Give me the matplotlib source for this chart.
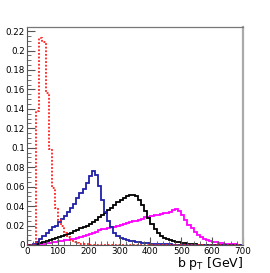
import numpy as np
import matplotlib
matplotlib.use("Agg")
import matplotlib.pyplot as plt
from matplotlib.ticker import MultipleLocator

# bin edges 0..700 GeV, 10 GeV bins
edges = np.arange(0, 710, 10)

# red (dotted)
red_vals = [0, 0, 0, 0.138, 0.213, 0.209, 0.156, 0.099, 0.059, 0.038,
            0.026, 0.020, 0.012, 0.008, 0.005, 0.003, 0.002, 0.001, 0.001, 0.001,
            0.0005, 0.0005, 0.0005, 0.0003, 0.0003, 0.0002, 0.0002, 0.0001, 0.0001, 0.0001]
# blue
blue_vals = [0, 0, 0.001, 0.003, 0.006, 0.009, 0.012, 0.015, 0.018, 0.020,
             0.024, 0.027, 0.030, 0.034, 0.038, 0.042, 0.048, 0.053, 0.058, 0.064,
             0.071, 0.076, 0.072, 0.061, 0.046, 0.034, 0.025, 0.018, 0.012, 0.009,
             0.007, 0.006, 0.005, 0.004, 0.004, 0.003, 0.003, 0.002, 0.002, 0.002,
             0.0015, 0.0015, 0.001, 0.001, 0.001, 0.0008, 0.0006, 0.0005, 0.0004, 0.0003]
# black
black_vals = [0, 0, 0.0005, 0.001, 0.002, 0.003, 0.004, 0.005, 0.006, 0.007,
              0.008, 0.009, 0.010, 0.011, 0.012, 0.014, 0.015, 0.017, 0.019, 0.020,
              0.022, 0.024, 0.026, 0.029, 0.031, 0.033, 0.036, 0.038, 0.041, 0.044,
              0.046, 0.048, 0.050, 0.051, 0.051, 0.050, 0.046, 0.041, 0.035, 0.028,
              0.022, 0.016, 0.012, 0.009, 0.007, 0.006, 0.005, 0.004, 0.003, 0.003,
              0.002, 0.002, 0.0015, 0.001, 0.001, 0.0005, 0.0005, 0.0003, 0.0002, 0.0002]
# magenta
mag_vals = [0, 0, 0, 0.0003, 0.001, 0.0015, 0.002, 0.002, 0.003, 0.003,
            0.004, 0.004, 0.005, 0.005, 0.006, 0.006, 0.007, 0.008, 0.009, 0.010,
            0.011, 0.012, 0.013, 0.015, 0.016, 0.016, 0.017, 0.018, 0.019, 0.020,
            0.021, 0.022, 0.023, 0.024, 0.025, 0.025, 0.026, 0.027, 0.029, 0.029,
            0.030, 0.031, 0.031, 0.032, 0.033, 0.033, 0.034, 0.036, 0.037, 0.035,
            0.031, 0.026, 0.021, 0.017, 0.013, 0.010, 0.008, 0.006, 0.005, 0.004,
            0.003, 0.003, 0.002, 0.002, 0.0015, 0.001, 0.001, 0.0008, 0.0005, 0.0005]


def full(v):
    v = list(v) + [0] * (len(edges) - 1 - len(v))
    return np.array(v)


fig = plt.figure(figsize=(2.70, 2.73), dpi=100)
ax = fig.add_axes([27 / 270, 28 / 273, 216 / 270, 218 / 273])

ax.stairs(full(mag_vals), edges, baseline=0, color="#ff00ff", lw=1.3)
ax.stairs(full(black_vals), edges, baseline=0, color="black", lw=1.3)
ax.stairs(full(blue_vals), edges, baseline=0, color="#2020a8", lw=1.3)
ax.stairs(full(red_vals), edges, baseline=0, color="#ff2020", lw=1.3, ls=(0, (1, 1)))

ax.set_xlim(0, 700)
ax.set_ylim(0, 0.2242)

ax.xaxis.set_major_locator(MultipleLocator(100))
ax.xaxis.set_minor_locator(MultipleLocator(20))
ax.yaxis.set_major_locator(MultipleLocator(0.02))
ax.yaxis.set_minor_locator(MultipleLocator(0.005))
ax.yaxis.set_major_formatter(plt.FuncFormatter(lambda v, p: ("%g" % round(v, 3))))

ax.tick_params(which="both", direction="in", top=False, right=False,
               labelsize=6.3, color="#555555", pad=1.5)
ax.tick_params(which="major", length=6, width=0.8)
ax.tick_params(which="minor", length=3, width=0.6)

for s in ["left", "bottom"]:
    ax.spines[s].set_color("#555555")
    ax.spines[s].set_linewidth(0.8)
ax.spines["top"].set_color("#777777")
ax.spines["top"].set_linewidth(0.9)
ax.spines["right"].set_color("#aaaaaa")
ax.spines["right"].set_linewidth(1.6)

fig.text(243 / 270, 0.5 / 273, r"b p$_{\mathregular{T}}$ [GeV]", ha="right", va="bottom",
         fontsize=9)

fig.savefig("out.png", dpi=100)
